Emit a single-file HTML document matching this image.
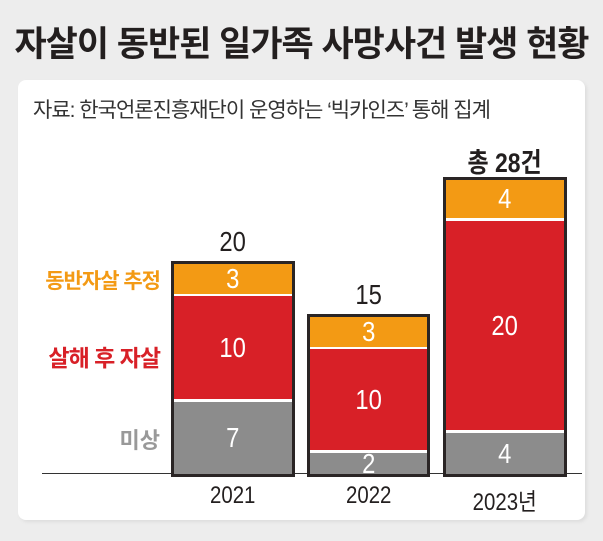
<!DOCTYPE html><html><head><meta charset="utf-8"><style>
body{margin:0;width:603px;height:541px;background:#ededed;position:relative;overflow:hidden;font-family:"Liberation Sans","Noto Sans CJK KR",sans-serif}
div{position:absolute}
.t{white-space:nowrap}
.bar{border:3px solid #2a2525;background:#fff;box-sizing:border-box}
.s{position:absolute;left:0;right:0;color:#fff;font-size:28px;text-align:center;display:flex;align-items:center;justify-content:center}
.s span,.c span{display:inline-block;transform:scaleX(0.85)}
.o{background:#f39a14}.r{background:#d82027}.g{background:#8c8c8c}
</style></head><body>
<div class="t" style="left:0;width:603px;top:16px;text-align:center;font-size:35px;font-weight:bold;color:#231f1f;letter-spacing:-1px">자살이 동반된 일가족 사망사건 발생 현황</div>
<div style="left:18px;top:80px;width:567px;height:440px;background:#fff;border-radius:8px;box-shadow:2px 2px 3px #ddd"></div>
<div class="t" style="left:33px;top:94px;font-size:21px;color:#333;letter-spacing:-1px">자료: 한국언론진흥재단이 운영하는 ‘빅카인즈’ 통해 집계</div>
<div style="left:42px;top:473px;width:540px;height:1px;background:#333"></div>
<div class="t" style="left:10px;width:150px;text-align:right;top:265px;font-size:21px;font-weight:bold;color:#f39a14;letter-spacing:-1px">동반자살 추정</div>
<div class="t" style="left:10px;width:150px;text-align:right;top:339px;font-size:23px;font-weight:bold;color:#d82027;letter-spacing:-1px">살해 후 자살</div>
<div class="t" style="left:10px;width:150px;text-align:right;top:423px;font-size:22px;font-weight:bold;color:#999">미상</div>

<div class="t c" style="left:171px;width:124px;text-align:center;top:226px;font-size:28px;color:#231f1f"><span>20</span></div>
<div class="bar" style="left:171px;top:261px;width:124px;height:216px">
<div class="s o" style="top:0;height:30px"><span>3</span></div>
<div class="s r" style="top:32px;height:103px"><span>10</span></div>
<div class="s g" style="top:138px;height:72px"><span>7</span></div></div>

<div class="t c" style="left:307px;width:123px;text-align:center;top:279px;font-size:28px;color:#231f1f"><span>15</span></div>
<div class="bar" style="left:307px;top:314px;width:123px;height:163px">
<div class="s o" style="top:0;height:30px"><span>3</span></div>
<div class="s r" style="top:32px;height:101px"><span>10</span></div>
<div class="s g" style="top:136px;height:21px"><span>2</span></div></div>

<div class="t c" style="left:443px;width:124px;text-align:center;top:141px;font-size:27px;color:#231f1f;font-weight:bold"><span>총 28건</span></div>
<div class="bar" style="left:443px;top:177px;width:124px;height:300px">
<div class="s o" style="top:0;height:38px"><span>4</span></div>
<div class="s r" style="top:41px;height:209px"><span>20</span></div>
<div class="s g" style="top:253px;height:41px"><span>4</span></div></div>

<div class="t c" style="left:171px;width:124px;text-align:center;top:482px;font-size:24px;color:#231f1f"><span>2021</span></div>
<div class="t c" style="left:307px;width:123px;text-align:center;top:482px;font-size:24px;color:#231f1f"><span>2022</span></div>
<div class="t c" style="left:443px;width:124px;text-align:center;top:482px;font-size:24px;color:#231f1f"><span>2023년</span></div>
</body></html>
